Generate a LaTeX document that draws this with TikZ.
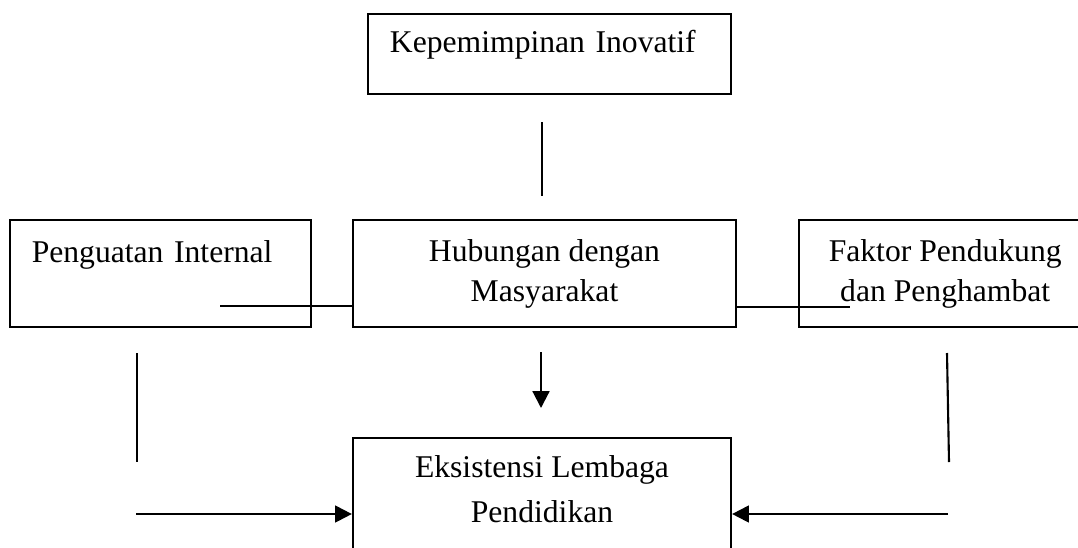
\documentclass[tikz,border=0pt]{standalone}
\usepackage{fontspec}
\setmainfont{Liberation Serif}
\usetikzlibrary{arrows.meta,positioning,calc}

\begin{document}
\begin{tikzpicture}[
  x=0.025cm, y=-0.025cm,
  box/.style={draw=black, line width=1.5pt, inner sep=0pt, font=\fontsize{22.5}{28.45}\selectfont},
  lbox/.style={box, align=left, inner xsep=0.55cm},
  cbox/.style={box, align=center, minimum height=2.675cm},
  link/.style={line width=1.5pt, draw=black},
  arrow/.style={-{Triangle[length=4.2mm, width=4.2mm]}, line width=1.5pt, draw=black}
]
\useasboundingbox (0,0) rectangle (1078,547);
\node[cbox, minimum width=9.575cm] (hub) at (544.5,273.5) {Hubungan dengan\\Masyarakat};
\node[lbox, text width=6.425cm, text height=1.05cm, text depth=1.625cm, left=1cm of hub] (pen) {Penguatan Internal};
\node[cbox, minimum width=7.3cm, right=1.525cm of hub] (fak) {Faktor Pendukung\\dan Penghambat};
\node[lbox, text width=7.975cm, text height=0.975cm, text depth=1.025cm, above=3.1cm of hub, xshift=0.125cm] (kep) {Kepemimpinan Inovatif};
\node[box, align=center, minimum width=9.45cm, inner ysep=0.44cm, text depth=3cm, font=\fontsize{22.5}{32}\selectfont, below=2.725cm of hub, xshift=-0.0625cm] (eks) {Eksistensi Lembaga\\Pendidikan};
% free line ends
\coordinate (topA) at (542,122);
\coordinate (topB) at (542,196);
\coordinate (penIn) at (220,306);
\coordinate (fakIn) at (850,307);
\coordinate (midA) at (541,352);
\coordinate (midB) at (541,408);
\coordinate (leftA) at (137,353);
\coordinate (leftB) at (137,462);
\coordinate (leftC) at (136,514);
\coordinate (rightA) at (947,353);
\coordinate (rightB) at (949,462);
\coordinate (rightC) at (948,514);
\draw[link] (topA) -- (topB);
\draw[link] (penIn) -- (penIn -| hub.west);
\draw[link] (hub.east |- fakIn) -- (fakIn);
\draw[arrow] (midA) -- (midB);
\draw[link] (leftA) -- (leftB);
\draw[arrow] (leftC) -- (leftC -| eks.west);
\draw[link] (rightA) -- (rightB);
\draw[arrow] (rightC) -- (rightC -| eks.east);
\end{tikzpicture}
\end{document}
